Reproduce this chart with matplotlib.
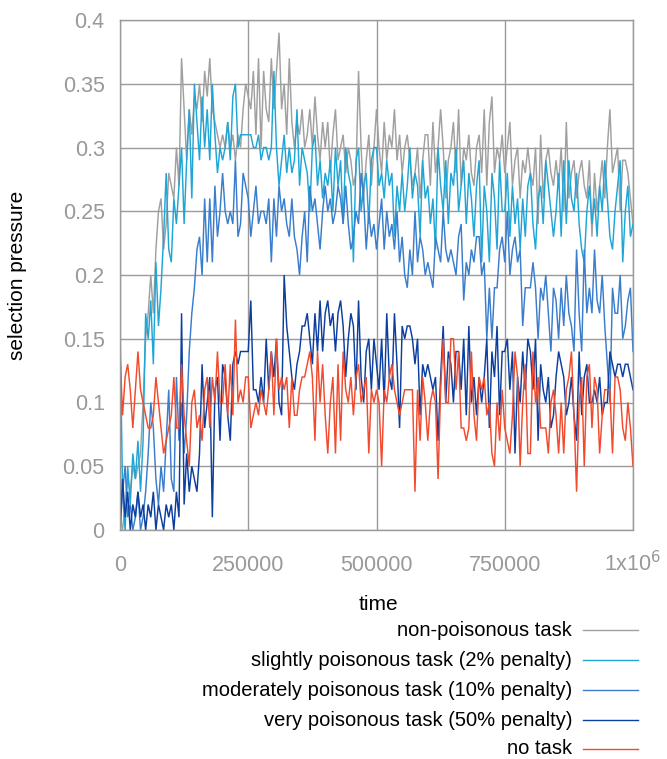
import numpy as np
import matplotlib
matplotlib.use("Agg")
import matplotlib.pyplot as plt
from matplotlib.lines import Line2D
from matplotlib.transforms import ScaledTranslation

plt.rcParams['font.family'] = ['Liberation Sans', 'DejaVu Sans']

time = np.arange(0, 1000001, 5000)

non_poisonous = [
    0.01,0.00,0.02,0.04,0.03,0.05,0.04,0.05,0.06,0.10,
    0.15,0.17,0.20,0.17,0.22,0.25,0.26,0.22,0.24,0.28,
    0.27,0.26,0.30,0.27,0.37,0.33,0.29,0.33,0.31,0.34,
    0.33,0.35,0.32,0.36,0.34,0.37,0.33,0.32,0.31,0.30,
    0.31,0.30,0.32,0.30,0.31,0.29,0.31,0.30,0.33,0.35,
    0.34,0.33,0.36,0.31,0.37,0.30,0.36,0.33,0.32,0.37,
    0.33,0.36,0.39,0.33,0.35,0.31,0.37,0.32,0.30,0.32,
    0.31,0.33,0.30,0.31,0.33,0.30,0.34,0.31,0.29,0.32,
    0.30,0.32,0.28,0.31,0.33,0.29,0.30,0.31,0.28,0.30,
    0.29,0.27,0.28,0.36,0.30,0.26,0.29,0.31,0.27,0.30,
    0.33,0.30,0.28,0.32,0.29,0.31,0.30,0.33,0.29,0.31,
    0.28,0.30,0.31,0.29,0.27,0.28,0.30,0.26,0.29,0.31,
    0.31,0.27,0.32,0.28,0.30,0.33,0.30,0.26,0.29,0.30,
    0.32,0.28,0.33,0.27,0.30,0.29,0.31,0.28,0.27,0.30,
    0.31,0.28,0.33,0.27,0.32,0.34,0.28,0.30,0.29,0.31,
    0.28,0.30,0.32,0.27,0.29,0.30,0.26,0.29,0.28,0.30,
    0.28,0.27,0.30,0.24,0.31,0.26,0.29,0.30,0.28,0.27,
    0.29,0.27,0.30,0.25,0.32,0.26,0.28,0.29,0.26,0.28,
    0.29,0.27,0.26,0.29,0.23,0.28,0.25,0.27,0.29,0.26,
    0.30,0.33,0.28,0.29,0.30,0.25,0.29,0.29,0.28,0.26,
    0.24]

slightly = [
    0.16,0.03,0.00,0.05,0.02,0.06,0.04,0.07,0.03,0.07,
    0.17,0.15,0.18,0.13,0.21,0.16,0.19,0.23,0.28,0.22,
    0.21,0.26,0.24,0.27,0.30,0.24,0.29,0.33,0.26,0.35,
    0.32,0.29,0.34,0.30,0.33,0.29,0.35,0.31,0.28,0.30,
    0.29,0.30,0.32,0.29,0.34,0.35,0.30,0.31,0.31,0.31,
    0.31,0.31,0.30,0.30,0.31,0.29,0.30,0.30,0.29,0.30,
    0.36,0.30,0.27,0.29,0.31,0.28,0.30,0.28,0.29,0.33,
    0.27,0.30,0.29,0.28,0.25,0.30,0.31,0.27,0.29,0.26,
    0.28,0.27,0.29,0.25,0.30,0.27,0.29,0.24,0.30,0.28,
    0.27,0.21,0.29,0.30,0.25,0.27,0.28,0.24,0.29,0.30,
    0.30,0.27,0.28,0.26,0.29,0.27,0.28,0.23,0.27,0.25,
    0.28,0.25,0.27,0.30,0.26,0.28,0.27,0.23,0.29,0.26,
    0.27,0.24,0.26,0.22,0.30,0.27,0.25,0.29,0.24,0.28,
    0.27,0.30,0.25,0.27,0.29,0.24,0.28,0.26,0.23,0.27,
    0.29,0.21,0.27,0.25,0.21,0.28,0.26,0.22,0.29,0.25,
    0.25,0.28,0.23,0.27,0.24,0.26,0.22,0.26,0.23,0.27,
    0.28,0.24,0.22,0.26,0.27,0.24,0.29,0.27,0.25,0.23,
    0.25,0.28,0.23,0.29,0.24,0.29,0.26,0.25,0.28,0.24,
    0.22,0.21,0.25,0.27,0.24,0.26,0.23,0.27,0.25,0.29,
    0.26,0.23,0.22,0.25,0.27,0.29,0.21,0.25,0.27,0.23,
    0.24]

moderately = [
    0.00,0.03,0.05,0.01,0.02,0.00,0.01,0.03,0.00,0.01,
    0.03,0.06,0.10,0.08,0.04,0.02,0.05,0.03,0.07,0.11,
    0.04,0.03,0.12,0.07,0.10,0.06,0.09,0.14,0.17,0.19,
    0.22,0.23,0.20,0.26,0.21,0.26,0.21,0.27,0.23,0.25,
    0.28,0.25,0.24,0.25,0.24,0.29,0.23,0.24,0.28,0.27,
    0.26,0.23,0.25,0.27,0.24,0.25,0.25,0.24,0.26,0.21,
    0.26,0.23,0.27,0.25,0.26,0.24,0.23,0.26,0.23,0.22,
    0.20,0.23,0.25,0.21,0.27,0.25,0.26,0.24,0.22,0.25,
    0.27,0.25,0.26,0.24,0.25,0.27,0.26,0.24,0.27,0.24,
    0.22,0.23,0.25,0.24,0.28,0.26,0.22,0.25,0.23,0.24,
    0.22,0.24,0.26,0.22,0.25,0.23,0.24,0.22,0.25,0.21,
    0.23,0.20,0.19,0.22,0.20,0.25,0.21,0.23,0.22,0.20,
    0.21,0.20,0.19,0.23,0.22,0.21,0.25,0.22,0.21,0.22,
    0.21,0.20,0.23,0.24,0.18,0.21,0.20,0.22,0.21,0.23,
    0.23,0.20,0.21,0.15,0.19,0.15,0.19,0.19,0.22,0.23,
    0.21,0.25,0.20,0.22,0.23,0.21,0.22,0.16,0.19,0.19,
    0.19,0.21,0.19,0.15,0.19,0.18,0.20,0.17,0.14,0.19,
    0.18,0.15,0.19,0.16,0.20,0.17,0.16,0.14,0.22,0.17,
    0.14,0.22,0.17,0.19,0.17,0.22,0.18,0.17,0.20,0.16,
    0.13,0.10,0.19,0.17,0.17,0.20,0.15,0.16,0.18,0.19,
    0.14]

very = [
    0.00,0.04,0.01,0.03,0.00,0.02,0.01,0.03,0.01,0.02,
    0.00,0.02,0.01,0.03,0.00,0.02,0.01,0.00,0.02,0.01,
    0.02,0.00,0.03,0.01,0.17,0.02,0.06,0.03,0.05,0.04,
    0.03,0.06,0.13,0.08,0.10,0.12,0.01,0.11,0.12,0.07,
    0.13,0.12,0.09,0.07,0.13,0.14,0.13,0.14,0.14,0.14,
    0.14,0.18,0.11,0.11,0.10,0.12,0.10,0.15,0.11,0.14,
    0.12,0.15,0.10,0.09,0.20,0.16,0.14,0.12,0.11,0.13,
    0.14,0.16,0.16,0.17,0.15,0.13,0.17,0.14,0.18,0.14,
    0.17,0.18,0.16,0.17,0.14,0.17,0.18,0.16,0.12,0.15,
    0.17,0.16,0.11,0.18,0.12,0.10,0.14,0.15,0.11,0.15,
    0.13,0.11,0.15,0.10,0.17,0.12,0.11,0.17,0.13,0.08,
    0.16,0.15,0.16,0.16,0.15,0.13,0.15,0.09,0.13,0.12,
    0.13,0.12,0.11,0.12,0.07,0.12,0.16,0.10,0.14,0.13,
    0.10,0.14,0.14,0.11,0.15,0.09,0.16,0.10,0.12,0.09,
    0.12,0.10,0.12,0.15,0.08,0.14,0.12,0.16,0.09,0.14,
    0.14,0.15,0.11,0.14,0.06,0.12,0.10,0.14,0.11,0.15,
    0.14,0.11,0.15,0.07,0.13,0.11,0.10,0.12,0.08,0.09,
    0.12,0.14,0.13,0.12,0.09,0.10,0.12,0.09,0.07,0.14,
    0.09,0.12,0.13,0.10,0.10,0.11,0.10,0.12,0.09,0.10,
    0.10,0.14,0.13,0.12,0.13,0.13,0.12,0.13,0.13,0.12,
    0.11]

no_task = [
    0.14,0.09,0.12,0.13,0.11,0.08,0.11,0.14,0.11,0.10,
    0.09,0.08,0.08,0.09,0.12,0.10,0.08,0.06,0.07,0.08,
    0.09,0.12,0.08,0.08,0.13,0.09,0.07,0.05,0.10,0.11,
    0.08,0.09,0.07,0.11,0.12,0.08,0.12,0.10,0.14,0.10,
    0.10,0.13,0.09,0.13,0.09,0.165,0.10,0.11,0.10,0.12,
    0.12,0.08,0.09,0.10,0.09,0.11,0.10,0.09,0.11,0.14,
    0.09,0.15,0.11,0.12,0.11,0.12,0.08,0.12,0.09,0.09,
    0.11,0.12,0.12,0.13,0.14,0.12,0.07,0.14,0.10,0.13,
    0.09,0.06,0.10,0.12,0.06,0.13,0.07,0.14,0.11,0.10,
    0.12,0.09,0.12,0.13,0.10,0.11,0.12,0.06,0.11,0.10,
    0.11,0.10,0.05,0.11,0.10,0.12,0.13,0.11,0.10,0.09,
    0.10,0.11,0.11,0.11,0.11,0.03,0.11,0.07,0.12,0.10,
    0.07,0.10,0.11,0.10,0.04,0.11,0.15,0.10,0.10,0.15,
    0.15,0.11,0.14,0.08,0.08,0.07,0.08,0.14,0.09,0.07,
    0.12,0.11,0.12,0.09,0.10,0.06,0.05,0.10,0.07,0.11,
    0.08,0.07,0.06,0.09,0.14,0.12,0.05,0.10,0.13,0.06,
    0.06,0.14,0.10,0.12,0.08,0.08,0.08,0.06,0.10,0.11,
    0.09,0.06,0.10,0.06,0.11,0.12,0.14,0.09,0.03,0.10,
    0.12,0.05,0.12,0.13,0.08,0.12,0.11,0.06,0.09,0.11,
    0.11,0.11,0.06,0.12,0.12,0.11,0.08,0.07,0.10,0.08,
    0.05]

labels = [
    "non-poisonous task",
    "slightly poisonous task (2% penalty)",
    "moderately poisonous task (10% penalty)",
    "very poisonous task (50% penalty)",
    "no task",
]
colors = ["#a0a0a0", "#1fa6d6", "#3a7dcc", "#0c3e9e", "#f24a2c"]
series = [non_poisonous, slightly, moderately, very, no_task]

x_ticks = [0, 250000, 500000, 750000, 1000000]
x_ticklabels = ["0", "250000", "500000", "750000", r"1x10$^{6}$"]
y_ticks = [0, 0.05, 0.1, 0.15, 0.2, 0.25, 0.3, 0.35, 0.4]
y_ticklabels = ["0", "0.05", "0.1", "0.15", "0.2", "0.25", "0.3", "0.35", "0.4"]

W, H = 667, 759
fig = plt.figure(figsize=(W / 100, H / 100), dpi=100)
ax = fig.add_axes([120 / W, 1 - 530 / H, (633 - 120) / W, (530 - 20) / H])

for vals, c in zip(series, colors):
    ax.plot(time, vals, color=c, lw=1.05, solid_joinstyle='miter')

ax.set_xlim(0, 1000000)
ax.set_ylim(0, 0.4)
ax.set_xticks(x_ticks)
ax.set_xticklabels(x_ticklabels)
ax.set_yticks(y_ticks)
ax.set_yticklabels(y_ticklabels)
ax.grid(True, color="#9a9a9a", lw=1.0)
ax.set_axisbelow(True)
for s in ax.spines.values():
    s.set_color("#9a9a9a")
    s.set_linewidth(1.0)
ax.tick_params(axis='both', colors="#9a9a9a", labelcolor="#999999",
               labelsize=15.5, length=0)
ax.tick_params(axis='y', pad=11)
ax.tick_params(axis='x', pad=18)

last = ax.get_xticklabels()[-1]
last.set_transform(last.get_transform() +
                   ScaledTranslation(0, 3 / 72, fig.dpi_scale_trans))

fig.text(18 / W, 1 - 275 / H, "selection pressure", rotation=90,
         ha='center', va='center', fontsize=15, color='black')
fig.text(378 / W, 1 - 604 / H, "time", ha='center', va='center',
         fontsize=15, color='black')

rows_y = [630, 660, 690, 720, 749]
for lab, c, yy in zip(labels, colors, rows_y):
    fig.text(572 / W, 1 - yy / H, lab, ha='right', va='center',
             fontsize=14.5, color='black')
    fig.add_artist(Line2D([583 / W, 638 / W], [1 - yy / H, 1 - yy / H],
                          transform=fig.transFigure, color=c, lw=1.0))

fig.savefig("out.png", dpi=100)
